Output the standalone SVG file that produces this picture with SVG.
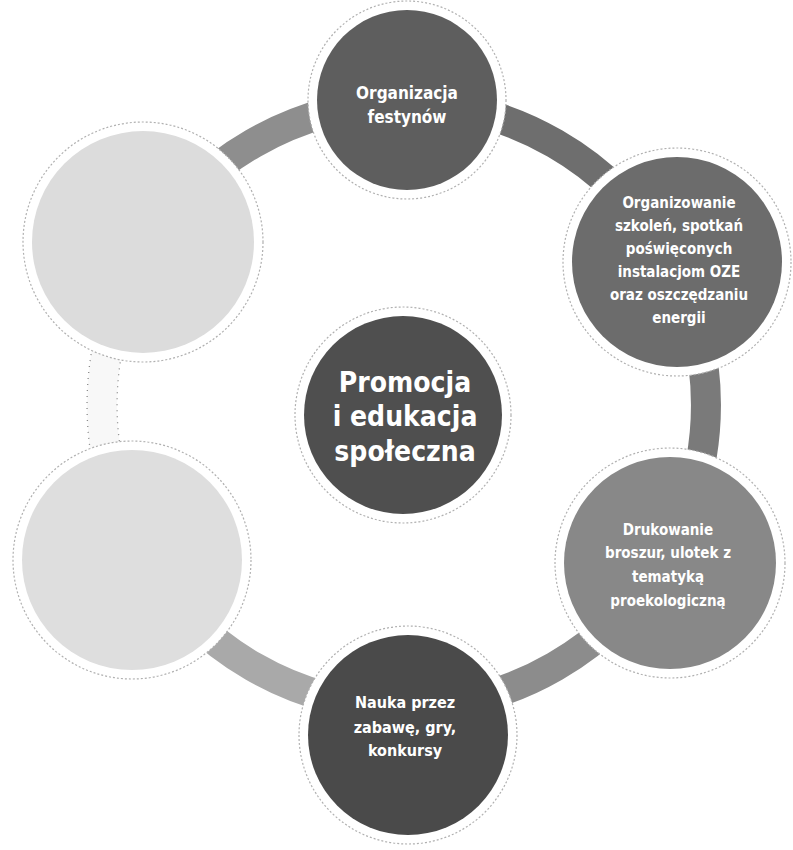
<svg xmlns="http://www.w3.org/2000/svg" width="793" height="850" viewBox="0 0 793 850">
<style>
.band{fill:none;stroke-width:30;stroke-linecap:butt}
.edge{fill:none;stroke:#8a8a8a;stroke-width:1.3;stroke-dasharray:1 5}
.halo{fill:#ffffff;stroke:#b0b0b0;stroke-width:1.2;stroke-dasharray:2 2}
.lbl{fill:#ffffff;font-family:"DejaVu Sans Condensed","DejaVu Sans","Liberation Sans",sans-serif;font-stretch:condensed;font-weight:bold;text-anchor:middle}
.s15{font-size:15px}
.s16{font-size:16px}
.s17{font-size:17px}
.s28{font-size:28px}
</style>
<rect width="793" height="850" fill="#ffffff"/>
<g id="connectors">
  <path class="band" stroke="#6e6e6e" d="M 404 103 A 302 302 0 0 1 665.5 254"/>
  <path class="band" stroke="#7a7a7a" d="M 665.5 254 A 302 302 0 0 1 665.5 556"/>
  <path class="band" stroke="#8c8c8c" d="M 665.5 556 A 302 302 0 0 1 404 707"/>
  <path class="band" stroke="#a9a9a9" d="M 404 707 A 302 302 0 0 1 142.5 556"/>
  <path class="band" stroke="#f8f8f8" d="M 142.5 556 A 302 302 0 0 1 142.5 254"/>
  <path class="edge" d="M 155.5 548.5 A 287 287 0 0 1 155.5 261.5"/>
  <path class="edge" d="M 129.5 563.5 A 317 317 0 0 1 129.5 246.5"/>
  <path class="band" stroke="#8e8e8e" d="M 142.5 254 A 302 302 0 0 1 404 103"/>
</g>
<g id="node-top">
  <circle class="halo" cx="407" cy="100" r="99"/>
  <circle cx="407" cy="100" r="90" fill="#5e5e5e"/>
  <text class="lbl s17" x="407" y="99">Organizacja</text>
  <text class="lbl s17" x="407" y="123">festynów</text>
</g>
<g id="node-upper-right">
  <circle class="halo" cx="677" cy="262" r="114"/>
  <circle cx="677" cy="262" r="105" fill="#6c6c6c"/>
  <text class="lbl s15" x="679" y="208">Organizowanie</text>
  <text class="lbl s15" x="679" y="231">szkoleń, spotkań</text>
  <text class="lbl s15" x="679" y="254">poświęconych</text>
  <text class="lbl s15" x="679" y="277">instalacjom OZE</text>
  <text class="lbl s15" x="679" y="300">oraz oszczędzaniu</text>
  <text class="lbl s15" x="679" y="323">energii</text>
</g>
<g id="node-upper-left">
  <circle class="halo" cx="143" cy="242" r="120"/>
  <circle cx="143" cy="242" r="111" fill="#dcdcdc"/>
</g>
<g id="node-center">
  <circle class="halo" cx="403" cy="415" r="108"/>
  <circle cx="403" cy="415" r="99" fill="#4f4f4f"/>
  <text class="lbl s28" x="405" y="392">Promocja</text>
  <text class="lbl s28" x="405" y="426">i edukacja</text>
  <text class="lbl s28" x="405" y="461">społeczna</text>
</g>
<g id="node-lower-left">
  <circle class="halo" cx="132" cy="560" r="119"/>
  <circle cx="132" cy="560" r="110" fill="#dedede"/>
</g>
<g id="node-lower-right">
  <circle class="halo" cx="670" cy="563" r="115"/>
  <circle cx="670" cy="563" r="106" fill="#888888"/>
  <text class="lbl s15" x="668" y="535">Drukowanie</text>
  <text class="lbl s15" x="668" y="558">broszur, ulotek z</text>
  <text class="lbl s15" x="668" y="582">tematyką</text>
  <text class="lbl s15" x="668" y="606">proekologiczną</text>
</g>
<g id="node-bottom">
  <circle class="halo" cx="408" cy="735" r="109"/>
  <circle cx="408" cy="735" r="100" fill="#4a4a4a"/>
  <text class="lbl s16" x="405" y="708">Nauka przez</text>
  <text class="lbl s16" x="405" y="733">zabawę, gry,</text>
  <text class="lbl s16" x="405" y="756">konkursy</text>
</g>
</svg>
